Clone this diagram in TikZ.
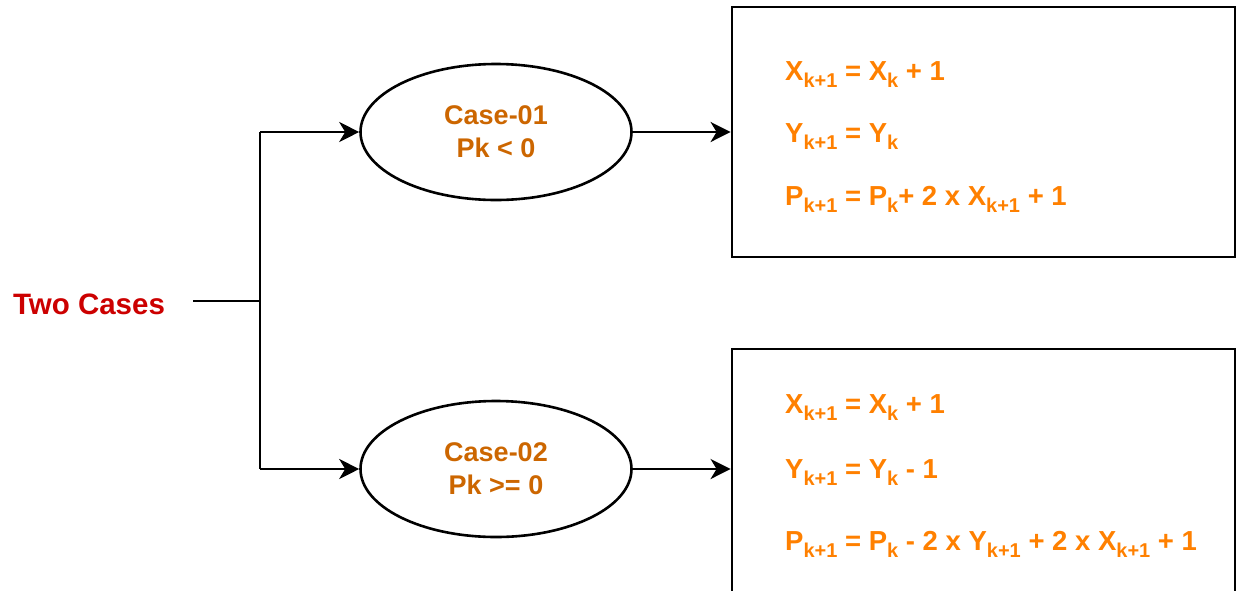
\documentclass[tikz,border=0pt]{standalone}
\usepackage{fontspec}
\setmainfont{Liberation Sans}
\usetikzlibrary{shapes.geometric,arrows.meta}
\definecolor{casered}{RGB}{204,0,0}
\definecolor{casetext}{RGB}{204,102,0}
\definecolor{eqtext}{RGB}{255,128,0}
\newcommand\sbs[1]{\raisebox{-7pt}{\fontsize{20}{20}\selectfont #1}}
\tikzset{
  conn/.style={line width=2.8pt, draw=black},
  arr/.style={conn, -{Stealth[length=20pt,width=20pt,inset=6pt]}},
  casenode/.style={ellipse, draw, line width=2.6pt, minimum width=271pt, minimum height=136pt, inner sep=0pt,
     align=center, text=casetext, font=\fontsize{27}{33}\selectfont\bfseries},
  eqbox/.style={rectangle, draw, line width=2.8pt, minimum width=503pt, inner sep=0pt},
  eq/.style={anchor=base west, inner sep=0pt, text=eqtext, font=\fontsize{27.5}{30}\selectfont\bfseries},
}
\begin{document}
\begin{tikzpicture}[x=1pt,y=-1pt]
\useasboundingbox (0,0) rectangle (1236,590);
\clip (0,0) rectangle (1236,590);
\node[anchor=base, inner sep=0pt, text=casered, font=\fontsize{29.5}{30}\selectfont\bfseries] (two) at (89,314) {Two Cases};
\coordinate (start) at (193,301);
\coordinate (split) at (260,301);
\coordinate (top) at (260,132);
\coordinate (bot) at (260,469);
\node[casenode] (c1) at (496,132) {Case-01\\Pk < 0};
\node[casenode] (c2) at (496,469) {Case-02\\Pk >= 0};
\node[eqbox, minimum height=250pt] (b1) at (983.5,132) {};
\node[eqbox, minimum height=243pt] (b2) at (983.5,470.5) {};
\draw[conn] (start) -- (split);
\draw[conn] (top) -- (bot);
\draw[arr] (top) -- (c1.west);
\draw[arr] (bot) -- (c2.west);
\draw[arr] (c1.east) -- (b1.west |- c1.east);
\draw[arr] (c2.east) -- (b2.west |- c2.east);
\node[eq] (e11) at (785,80) {X\sbs{k+1} = X\sbs{k} + 1};
\node[eq] (e12) at (785,142) {Y\sbs{k+1} = Y\sbs{k}};
\node[eq] (e13) at (785,205) {P\sbs{k+1} = P\sbs{k}+ 2 x X\sbs{k+1} + 1};
\node[eq] (e21) at (785,413) {X\sbs{k+1} = X\sbs{k} + 1};
\node[eq] (e22) at (785,478) {Y\sbs{k+1} = Y\sbs{k} - 1};
\node[eq] (e23) at (785,550) {P\sbs{k+1} = P\sbs{k} - 2 x Y\sbs{k+1} + 2 x X\sbs{k+1} + 1};
\end{tikzpicture}
\end{document}
